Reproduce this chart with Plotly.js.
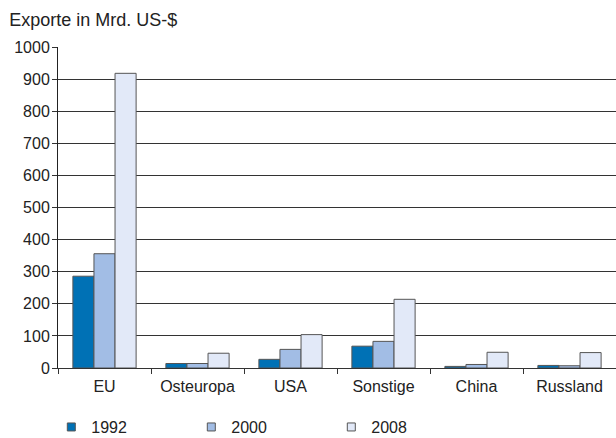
<!DOCTYPE html>
<html>
<head>
<meta charset="utf-8">
<script src="https://cdn.plot.ly/plotly-3.0.1.min.js"></script>
<style>html,body{margin:0;padding:0;background:#fff;}#chart{width:616px;height:438px;}</style>
</head>
<body>
<div id="chart"></div>
<script>
const categories = ["EU", "Osteuropa", "USA", "Sonstige", "China", "Russland"];
const years = ["1992", "2000", "2008"];
const v1992 = [286, 14, 27, 68, 5, 8];
const v2000 = [356, 14, 58, 83, 11, 7];
const v2008 = [918, 46, 104, 214, 49, 48];
const yTicks = [0, 100, 200, 300, 400, 500, 600, 700, 800, 900, 1000];

const colors = ["#0071b5", "#a2bde5", "#e2e9f8"];
const series = [v1992, v2000, v2008];
const traces = [];
series.forEach((vals, i) => {
  traces.push({
    type: "bar",
    name: years[i],
    legendgroup: years[i],
    showlegend: false,
    x: categories,
    y: vals,
    marker: {color: colors[i], line: {color: "#555555", width: 1}}
  });
});
// legend entries with small square swatches (no data drawn)
years.forEach((yr, i) => {
  traces.push({
    type: "scatter", mode: "markers", name: yr, legendgroup: yr,
    x: [null], y: [null],
    marker: {symbol: "square", size: 8, color: colors[i], line: {color: "#555555", width: 1}}
  });
});

const F = "Liberation Sans, Arial, Helvetica, sans-serif";
const layout = {
  width: 616, height: 438,
  margin: {l: 58, r: 0, t: 47, b: 70, autoexpand: false},
  paper_bgcolor: "#fff", plot_bgcolor: "#fff",
  font: {family: F, size: 16, color: "#222"},
  barmode: "group", bargap: 0.32, bargroupgap: 0,
  title: {text: "Exporte in Mrd. US-$", x: 0.015, xanchor: "left", y: 0.955, yanchor: "middle", font: {family: F, size: 18, color: "#222"}},
  xaxis: {
    tickson: "boundaries", ticks: "outside", ticklen: 5, tickcolor: "#333",
    ticklabelstandoff: 4, automargin: false,
    showline: true, linecolor: "#333", linewidth: 1,
    showgrid: false, tickfont: {family: F, size: 16, color: "#222"}
  },
  yaxis: {
    range: [0, 1000], tickvals: yTicks, ticktext: yTicks.map(String),
    ticks: "outside", ticklen: 5, tickcolor: "#333", ticklabelstandoff: -1,
    automargin: false,
    showline: true, linecolor: "#222", linewidth: 1,
    showgrid: true, gridcolor: "#333", gridwidth: 1,
    zeroline: false, tickfont: {family: F, size: 16, color: "#222"}
  },
  showlegend: true,
  legend: {orientation: "h", x: -0.012, xanchor: "left", y: -0.184, yanchor: "middle",
    entrywidth: 95, entrywidthmode: "pixels", font: {family: F, size: 16, color: "#222"},
    itemwidth: 30, traceorder: "normal"}
};
Plotly.newPlot("chart", traces, layout, {displayModeBar: false, staticPlot: true});
</script>
</body>
</html>
